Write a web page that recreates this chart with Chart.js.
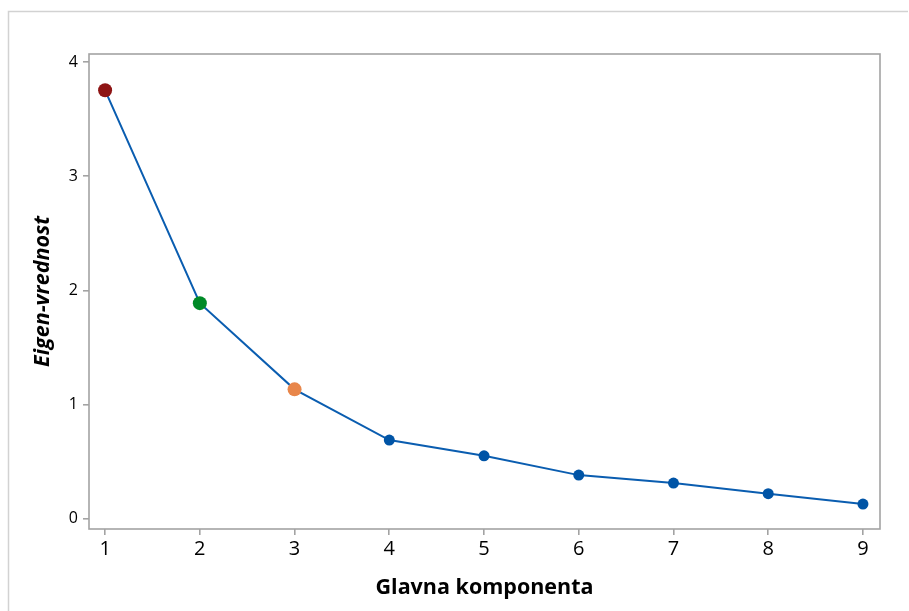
<!DOCTYPE html>
<html>
<head>
<meta charset="utf-8">
<script src="https://cdn.jsdelivr.net/npm/chart.js@4.4.1/dist/chart.umd.min.js"></script>
<style>
  html, body { margin: 0; padding: 0; background: #fff; overflow: hidden; }
  #wrap { position: relative; width: 909px; height: 611px; }
</style>
</head>
<body>
<div id="wrap"><canvas id="scree" width="909" height="611"></canvas></div>
<script>
// Scree plot: eigenvalue of each principal component
const components = [1, 2, 3, 4, 5, 6, 7, 8, 9];
const eigenvalues = [3.752, 1.888, 1.133, 0.689, 0.551, 0.382, 0.312, 0.219, 0.128];
const xTicks = [1, 2, 3, 4, 5, 6, 7, 8, 9];
const yTicks = [0, 1, 2, 3, 4];
const pointColors = ['#8e1414', '#008a27', '#e8864a', '#0054a6', '#0054a6', '#0054a6', '#0054a6', '#0054a6', '#0054a6'];
const pointSizes = [7, 7, 7, 5.5, 5.5, 5.5, 5.5, 5.5, 5.5];

const FONT = "'Open Sans', 'Noto Sans', sans-serif";
const AXIS_GRAY = '#a3a3a3';

// outer frame on the left/top edges and the box around the plot area
const framePlugin = {
  id: 'frames',
  beforeDraw(chart) {
    const ctx = chart.ctx;
    ctx.save();
    ctx.strokeStyle = '#d2d2d2';
    ctx.lineWidth = 1.5;
    ctx.beginPath();
    ctx.moveTo(8.5, 611);
    ctx.lineTo(8.5, 11.5);
    ctx.lineTo(908, 11.5);
    ctx.stroke();
    ctx.restore();
  },
  afterDatasetsDraw(chart) {
    const {ctx, chartArea: a} = chart;
    ctx.save();
    ctx.strokeStyle = AXIS_GRAY;
    ctx.lineWidth = 1.6;
    ctx.strokeRect(a.left, a.top, a.right - a.left, a.bottom - a.top);
    ctx.restore();
  }
};

new Chart(document.getElementById('scree'), {
  type: 'line',
  data: {
    datasets: [{
      data: components.map((c, i) => ({x: c, y: eigenvalues[i]})),
      borderColor: '#0a5db0',
      borderWidth: 2,
      tension: 0,
      pointBackgroundColor: pointColors,
      pointBorderWidth: 0,
      pointRadius: pointSizes,
      pointHoverRadius: pointSizes,
      clip: false
    }]
  },
  options: {
    responsive: false,
    animation: false,
    events: [],
    layout: { padding: { left: 0, top: 54, right: 29, bottom: 0 } },
    plugins: { legend: { display: false }, tooltip: { enabled: false } },
    scales: {
      x: {
        type: 'linear',
        min: 0.83,
        max: 9.18,
        afterBuildTicks: s => { s.ticks = xTicks.map(v => ({value: v})); },
        afterFit: s => { s.height = 82; },
        ticks: { color: '#000', font: { family: FONT, size: 20 }, padding: 2, maxRotation: 0 },
        grid: { drawOnChartArea: false, drawTicks: true, tickLength: 6, color: AXIS_GRAY, lineWidth: 1.6 },
        border: { display: false },
        title: {
          display: true,
          text: 'Glavna komponenta',
          color: '#000',
          font: { family: FONT, size: 21.5, weight: 'bold' },
          padding: { top: 0, bottom: 10 }
        }
      },
      y: {
        type: 'linear',
        min: -0.09,
        max: 4.07,
        afterBuildTicks: s => { s.ticks = yTicks.map(v => ({value: v})); },
        afterFit: s => { s.width = 89; },
        ticks: { color: '#000', font: { family: FONT, size: 16 }, padding: 5 },
        grid: { drawOnChartArea: false, drawTicks: true, tickLength: 6, color: AXIS_GRAY, lineWidth: 1.6 },
        border: { display: false },
        title: {
          display: true,
          text: 'Eigen-vrednost',
          color: '#000',
          font: { family: FONT, size: 21.5, weight: 'bold', style: 'italic' },
          padding: { top: 30, bottom: 0 }
        }
      }
    }
  },
  plugins: [framePlugin]
});
</script>
</body>
</html>
